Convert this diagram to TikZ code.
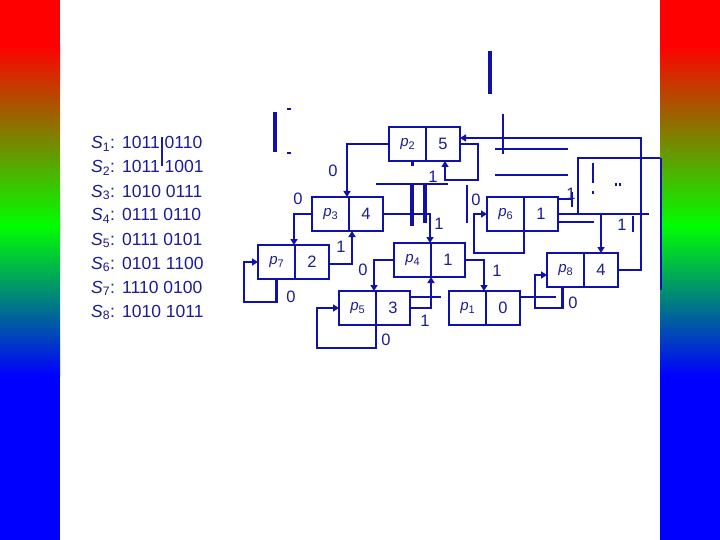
\documentclass[tikz,border=0pt]{standalone}
\usepackage{fontspec}
\setmainfont{Liberation Sans}
\usetikzlibrary{arrows.meta,calc}
\definecolor{mb}{RGB}{16,16,170}
\definecolor{tb}{RGB}{28,28,150}
\newcommand\plab[1]{{\fontsize{15}{15}\selectfont\itshape p\raisebox{-3.5pt}{\fontsize{11}{11}\selectfont\upshape #1}}}
\begin{document}
\begin{tikzpicture}[x=1pt,y=-1pt,
  conn/.style={draw=mb,line width=2.8pt},
  arr/.style={conn,-{Triangle[length=6pt,width=7pt]}},
  junk/.style={draw=mb,line width=3.2pt},
  cellL/.style={draw=mb,line width=1.3pt,minimum width=37pt,minimum height=34pt,inner sep=0pt,outer sep=0pt,anchor=north west,text=tb},
  cellR/.style={draw=mb,line width=1.3pt,minimum width=34pt,minimum height=34pt,inner sep=0pt,outer sep=0pt,anchor=north west,text=tb,font=\fontsize{16.5}{18}\selectfont},
  elab/.style={text=tb,font=\fontsize{16.5}{18}\selectfont,inner sep=0pt},
  srow/.style={text=tb,font=\fontsize{17.5}{20}\selectfont,inner sep=0pt,anchor=base west}
]
\useasboundingbox (0,0) rectangle (720,540);
\fill[white] (0,0) rectangle (720,540);
% colour bars
\foreach \xa/\xb in {0/60,660/720}{
  \fill[red] (\xa,0) rectangle (\xb,46);
  \shade[top color=red,bottom color=green] (\xa,45) rectangle (\xb,226);
  \shade[top color=green,bottom color=blue] (\xa,225) rectangle (\xb,376);
  \fill[blue] (\xa,375) rectangle (\xb,540);
}
% strings
\foreach \i/\bits [count=\k from 0] in {1/1011 0110,2/1011 1001,3/1010 0111,4/0111 0110,5/0111 0101,6/0101 1100,7/1110 0100,8/1010 1011}{
  \node[srow] (s\i) at (91,{149+24*\k}) {\textit{S}\textsubscript{\i}:};
  \node[srow] (b\i) at (122,{149+24*\k}) {\bits};
}
\draw[draw=tb,line width=2.6pt] (162,137) -- (162,166);
% boxes
\node[cellL] (p2l) at (389,127) {\plab{2}};
\node[cellR] (p2r) at (p2l.north east) {5};
\node[cellL] (p3l) at (312,197) {\plab{3}};
\node[cellR] (p3r) at (p3l.north east) {4};
\node[cellL] (p7l) at (258,245) {\plab{7}};
\node[cellR] (p7r) at (p7l.north east) {2};
\node[cellL] (p4l) at (394,243) {\plab{4}};
\node[cellR] (p4r) at (p4l.north east) {1};
\node[cellL] (p5l) at (339,291) {\plab{5}};
\node[cellR] (p5r) at (p5l.north east) {3};
\node[cellL] (p1l) at (449,291) {\plab{1}};
\node[cellR] (p1r) at (p1l.north east) {0};
\node[cellL] (p8l) at (547,253) {\plab{8}};
\node[cellR] (p8r) at (p8l.north east) {4};
\node[cellL] (p6l) at (487,197) {\plab{6}};
\node[cellR] (p6r) at (p6l.north east) {1};
% connectors
\draw[arr] (p2l.west) -| ($(p3l.north east)+(-2,0)$);
\draw[arr] (p3l.west) -| ($(p7l.north east)+(-1,0)$);
\draw[arr] (p3r.east) -| ($(p4l.north east)+(-1,0)$);
\draw[arr] ($(p7r.east)+(0,2)$) -| ($(p3r.south west)+(3,0)$);
\draw[arr] (p7l.south) |- ($(p7l.west)+(-14,40)$) |- (p7l.west);
\draw[arr] (p4l.west) -| ($(p5l.north east)+(-2,0)$);
\draw[arr] (p5r.east) -| (p4l.south east);
\draw[arr] (p5l.south east) |- ($(p5l.west)+(-22,40)$) |- (p5l.west);
\draw[arr] (p4r.east) -| ($(p1l.north east)+(-2,0)$);
\draw[conn] ($(p1r.east)+(0,-11)$) -- ++(36,0);
\draw[arr] ($(p8l.south)+(-3,0)$) |- ($(p8l.west)+(-12,38)$) |- ($(p8l.west)+(0,5)$);
\draw[arr] (p8r.east) -| ($(p2r.east)+(181,-6)$) -- ($(p2r.east)+(0,-6)$);
\draw[arr] (p2r.east) -| ($(p2r.east)+(18,36)$) -| ($(p2r.south)+(2,0)$);
\draw[arr] (p6l.south east) |- ($(p6l.west)+(-13,39)$) |- (p6l.west);
\draw[conn] (p6r.east) -- ++(91,0);
\draw[arr] (p8r.north |- p6r.east) -- (p8r.north);
\draw[conn] ($(p6r.east)+(20,0)$) |- ($(p6r.east)+(102,-56)$);
\draw[conn] ($(p6r.east)+(0,-15)$) -- ++(14,0);
\draw[conn] ($(p6r.east)+(14,-22)$) -- ++(0,15);
\draw[conn] ($(p6r.east)+(0,8)$) -- ++(36,0);
\draw[conn] ($(p5r.east)+(0,-11)$) -- ++(31,0);
% stray strokes
\draw[junk] (275,112) -- (275,152);
\draw[junk] (490,51) -- (490,94);
\draw[conn] (503,114) -- (503,154);
\draw[conn] (495,149) -- (568,149);
\draw[conn] (495,175) -- (568,175);
\draw[conn] (376,184) -- (448,184);
\draw[junk,line width=3.6pt] (412,184) -- (412,226);
\draw[junk] (425,184) -- (425,223);
\draw[conn] (467,185) -- (467,223);
\draw[conn] (593,163) -- (593,183);
\draw[conn] (633,216) -- (633,232);
\draw[draw=mb,line width=2pt] (660.5,158) -- (660.5,290);
\fill[mb] (410.5,162) rectangle (413.5,166);
\fill[mb] (287,108) rectangle (291,110.5);
\fill[mb] (287,152) rectangle (291,154.5);
\fill[mb] (592,191) rectangle (594,194);
\fill[mb] (615,183) rectangle (617,186);
\fill[mb] (619,183) rectangle (621,186);
% edge labels
\node[elab] (l1) at (333,171) {0};
\node[elab] (l2) at (298,199) {0};
\node[elab] (l3) at (439,224) {1};
\node[elab] (l4) at (341,247) {1};
\node[elab] (l5) at (291,297) {0};
\node[elab] (l6) at (363,270) {0};
\node[elab] (l7) at (425,321) {1};
\node[elab] (l8) at (386,340) {0};
\node[elab] (l9) at (497,271) {1};
\node[elab] (l10) at (573,303) {0};
\node[elab] (l11) at (433,177) {1};
\node[elab] (l12) at (476,200) {0};
\node[elab] (l13) at (571,194) {1};
\node[elab] (l14) at (622,225) {1};
\end{tikzpicture}
\end{document}
